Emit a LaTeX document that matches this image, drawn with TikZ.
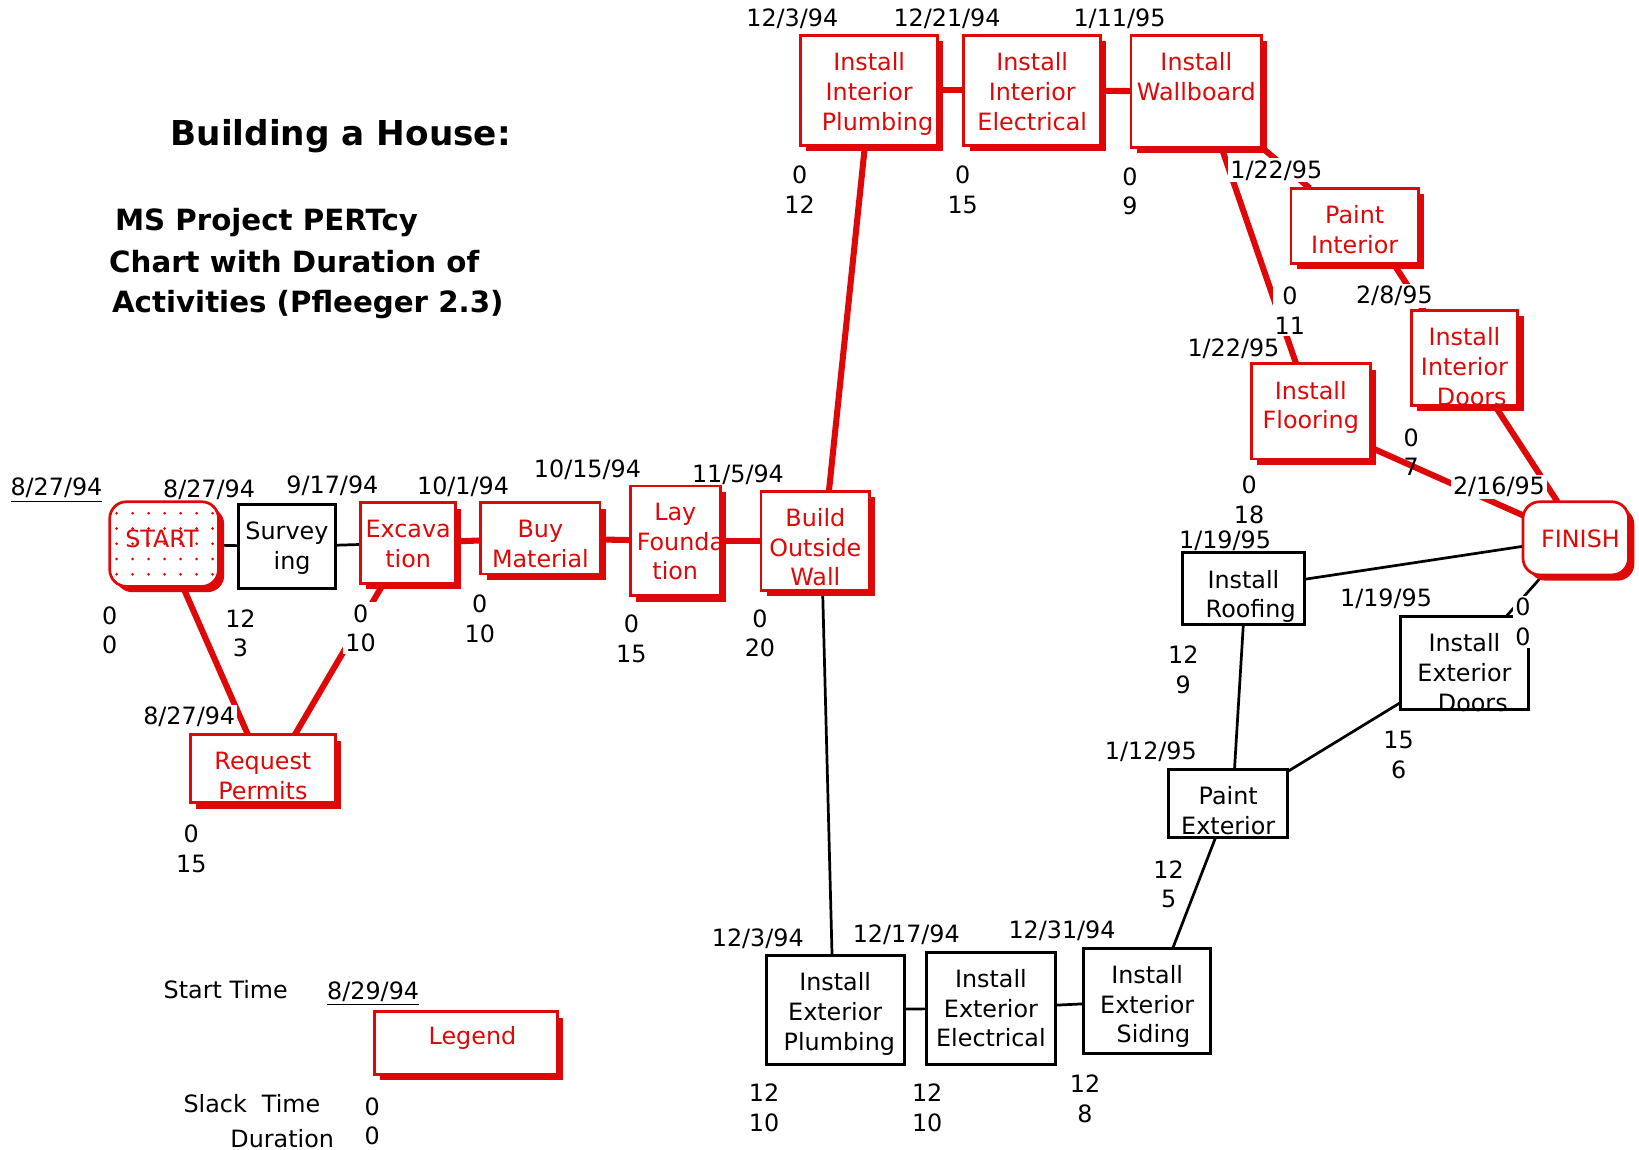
\documentclass[tikz,border=0pt]{standalone}
\usepackage{fontspec}
\setmainfont{DejaVu Sans}
\usetikzlibrary{shadows,calc}
\pgfdeclarelayer{background}
\pgfsetlayers{background,main}
\definecolor{pertred}{RGB}{222,8,8}

% activity box: #1 name, #2 box style, #3 text style, #4..#7 corners (x1,y1,x2,y2), #8 text
\newcommand\actbox[8]{%
  \node[#2, minimum width={(#6-#4)*0.5pt}, minimum height={(#7-#5)*0.5pt}]
    (#1) at ({(#4+#6)/2},{(#5+#7)/2}) {};
  \node[#3, anchor=north] (#1-t) at ([yshift=-8pt]#1.north) {#8};}

\begin{document}
\begin{tikzpicture}[x=0.5pt,y=-0.5pt,
  lbl/.style={font=\fontsize{11.4}{14.2}\selectfont, inner sep=0pt, align=center},
  datelbl/.style={lbl, fill=white, inner sep=1pt},
  masklbl/.style={lbl, fill=white, inner sep=1pt},
  critbox/.style={draw=pertred, line width=1.3pt, fill=white, outer sep=0pt, inner sep=0pt,
    drop shadow={shadow xshift=2.75pt, shadow yshift=-2.75pt, fill=pertred, opacity=1}},
  plainbox/.style={draw=black, line width=1.45pt, fill=white, outer sep=0pt, inner sep=0pt},
  critterm/.style={critbox, rounded corners=8pt},
  crittxt/.style={lbl, text=pertred},
  plaintxt/.style={lbl},
  critline/.style={draw=pertred, line width=2.9pt},
  normline/.style={draw=black, line width=1.3pt},
  titlefont/.style={font=\fontsize{16.4}{20}\selectfont\bfseries, inner sep=0pt},
  subfont/.style={font=\fontsize{14}{18}\selectfont\bfseries, inner sep=0pt},
]
\useasboundingbox (0,0) rectangle (1568,1100);

% ---- headings ----
\node[titlefont] (title) at (326,130) {Building a House:};
\node[subfont] (sub1) at (255,213) {MS Project PERTcy};
\node[subfont] (sub2) at (281.5,250) {Chart with Duration of};
\node[subfont] (sub3) at (294.5,291) {Activities (Pfleeger 2.3)};

% ---- early start dates ----
\node[lbl] (d0) at (54,469) {\underline{8/27/94}};
\node[datelbl] (d1) at (200,469) {8/27/94};
\node[datelbl] (d2) at (318,465) {9/17/94};
\node[datelbl] (d3) at (443,466) {10/1/94};
\node[datelbl] (d4) at (562,449) {10/15/94};
\node[datelbl] (d5) at (706,454) {11/5/94};
\node[datelbl] (d6) at (758,18) {12/3/94};
\node[datelbl] (d7) at (906,18) {12/21/94};
\node[datelbl] (d8) at (1071,18) {1/11/95};
\node[datelbl] (d9) at (1221,163) {1/22/95};
\node[datelbl] (d10) at (1334,283) {2/8/95};
\node[datelbl] (d11) at (1180,334) {1/22/95};
\node[datelbl] (d12) at (1434,466) {2/16/95};
\node[datelbl] (d13) at (1172,517) {1/19/95};
\node[datelbl] (d14) at (1326,573) {1/19/95};
\node[datelbl] (d15) at (1101,719) {1/12/95};
\node[datelbl] (d16) at (181,686) {8/27/94};
\node[datelbl] (d17) at (725,898) {12/3/94};
\node[datelbl] (d18) at (867,894) {12/17/94};
\node[datelbl] (d19) at (1016,890) {12/31/94};

% ---- terminal nodes ----
\node[critterm, minimum width=52pt, minimum height=40.5pt,
  path picture={\foreach \r in {0,...,4}{\foreach \c in {0,...,6}{
    \fill[pertred] ($(path picture bounding box.north west)+({6.6+15.3*\c},{11+14.6*\r})$) circle[radius=0.7pt];}}}]
  (start) at (157,520.5) {};
\node[crittxt] (start-t) at (155,515) {START};
\node[critterm, minimum width=50.5pt, minimum height=35pt] (finish) at (1507.5,515) {};
\node[crittxt] (finish-t) at (1512,515) {FINISH};

% ---- critical activities ----
\actbox{exc}{critbox}{crittxt}{345}{481}{436}{558}{Excava\\tion}
\actbox{buy}{critbox}{crittxt}{460}{481}{574}{549}{Buy\\Material}
\actbox{lay}{critbox}{crittxt}{603}{465}{689}{570}{Lay\\\hspace*{5pt}Founda\\tion}
\actbox{bow}{critbox}{crittxt}{728}{470}{832}{565}{Build\\Outside\\Wall}
\actbox{req}{critbox}{crittxt}{182}{703}{321}{768}{Request\\Permits}
\actbox{ipl}{critbox}{crittxt}{766}{34}{897}{139}{Install\\Interior\\\hspace*{8pt}Plumbing}
\actbox{iel}{critbox}{crittxt}{922}{34}{1053}{139}{Install\\Interior\\Electrical}
\actbox{wb}{critbox}{crittxt}{1082}{34}{1207}{141}{Install\\Wallboard}
\actbox{pint}{critbox}{crittxt}{1235}{180}{1357}{252}{Paint\\Interior}
\actbox{idoor}{critbox}{crittxt}{1350}{297}{1452}{388}{Install\\Interior\\\hspace*{7pt}Doors}
\actbox{flo}{critbox}{crittxt}{1197}{348}{1311}{439}{Install\\Flooring}

% ---- activities with slack ----
\actbox{surv}{plainbox}{plaintxt}{228}{483}{321}{563}{Survey\\\hspace*{5pt}ing}
\actbox{roof}{plainbox}{plaintxt}{1131}{529}{1248}{597}{Install\\\hspace*{7pt}Roofing}
\actbox{edoor}{plainbox}{plaintxt}{1340}{590}{1462}{679}{Install\\Exterior\\\hspace*{8pt}Doors}
\actbox{pext}{plainbox}{plaintxt}{1118}{736}{1232}{801}{Paint\\Exterior}
\actbox{epl}{plainbox}{plaintxt}{733}{914}{865}{1018}{Install\\Exterior\\\hspace*{4pt}Plumbing}
\actbox{eel}{plainbox}{plaintxt}{886}{911}{1010}{1018}{Install\\Exterior\\Electrical}
\actbox{sid}{plainbox}{plaintxt}{1037}{907}{1158}{1008}{Install\\Exterior\\\hspace*{6pt}Siding}

% ---- slack / duration ----
\node[lbl] (s-start) at (105,603) {0\\0};
\node[lbl] (s-surv) at (230,606) {12\\3};
\node[masklbl] (s-exc) at (345,601) {0\\10};
\node[lbl] (s-buy) at (459,592) {0\\10};
\node[lbl] (s-lay) at (604,611) {0\\15};
\node[lbl] (s-bow) at (727,606) {0\\20};
\node[lbl] (s-req) at (183,812) {0\\15};
\node[lbl] (s-ipl) at (765,181.5) {0\\12};
\node[lbl] (s-iel) at (921,181.5) {0\\15};
\node[lbl] (s-wb) at (1081,183) {0\\9};
\node[masklbl] (s-pint) at (1234,297) {0\\11};
\node[lbl] (s-idoor) at (1350,432.5) {0\\7};
\node[lbl] (s-flo) at (1195,478) {0\\18};
\node[masklbl] (s-finish) at (1457,595) {0\\0};
\node[lbl] (s-roof) at (1132,641) {12\\9};
\node[lbl] (s-edoor) at (1338,722) {15\\6};
\node[lbl] (s-pext) at (1118,846) {12\\5};
\node[lbl] (s-epl) at (731,1060) {12\\10};
\node[lbl] (s-eel) at (887,1060) {12\\10};
\node[lbl] (s-sid) at (1038,1051) {12\\8};

% ---- legend ----
\node[lbl] (lg-start) at (216,947) {Start Time};
\node[lbl] (lg-date) at (357,951) {\underline{8/29/94}};
\node[critbox, minimum width=87.5pt, minimum height=30pt] (legend) at (445.5,998) {};
\node[crittxt] (legend-t) at (452,993) {Legend};
\node[lbl] (lg-slack) at (241,1056) {Slack~ Time};
\node[lbl] (lg-dur) at (270,1089) {Duration};
\node[lbl] (lg-s0) at (356,1059) {0};
\node[lbl] (lg-d0) at (356,1087) {0};

% ---- dependencies ----
\begin{pgfonlayer}{background}
\draw[normline] (start) -- (surv);
\draw[normline] (surv) -- (exc);
\draw[critline] (exc) -- (buy);
\draw[critline] (buy) -- (lay);
\draw[critline] (lay) -- (bow);
\draw[critline] (start) -- (req);
\draw[critline] ([xshift=-11.75pt]exc.south) -- ([xshift=15.25pt]req.north);
\draw[critline] ([xshift=6.5pt]bow.north) -- ([xshift=-2pt]ipl.south);
\draw[normline] ([xshift=3.5pt]bow.south) -- ([xshift=-1.5pt]epl.north);
\draw[critline] (ipl) -- (iel);
\draw[critline] (iel) -- (wb);
\draw[critline] ([xshift=12pt]wb.south) -- ([xshift=-7pt]flo.north);
\draw[critline] (wb.south east) -- ([xshift=9pt]pint.north west);
\draw[critline] ([xshift=18.5pt]pint.south) -- ([xshift=6pt]idoor.north west);
\draw[critline] ([xshift=14.5pt]idoor.south) -- ([xshift=-8.75pt]finish.north);
\draw[critline] ([yshift=-17.25pt]flo.east) -- ([yshift=11pt]finish.west);
\draw[normline] (roof) -- (finish);
\draw[normline] (finish) -- (edoor);
\draw[normline] (roof.south) -- ([xshift=3pt]pext.north);
\draw[normline] ([yshift=-1pt]pext.north east) -- ([yshift=3.5pt]edoor.south west);
\draw[normline] ([xshift=-6pt]pext.south) -- ([xshift=12.25pt]sid.north);
\draw[normline] (epl) -- (eel);
\draw[normline] (eel) -- (sid);
\end{pgfonlayer}
\end{tikzpicture}
\end{document}
